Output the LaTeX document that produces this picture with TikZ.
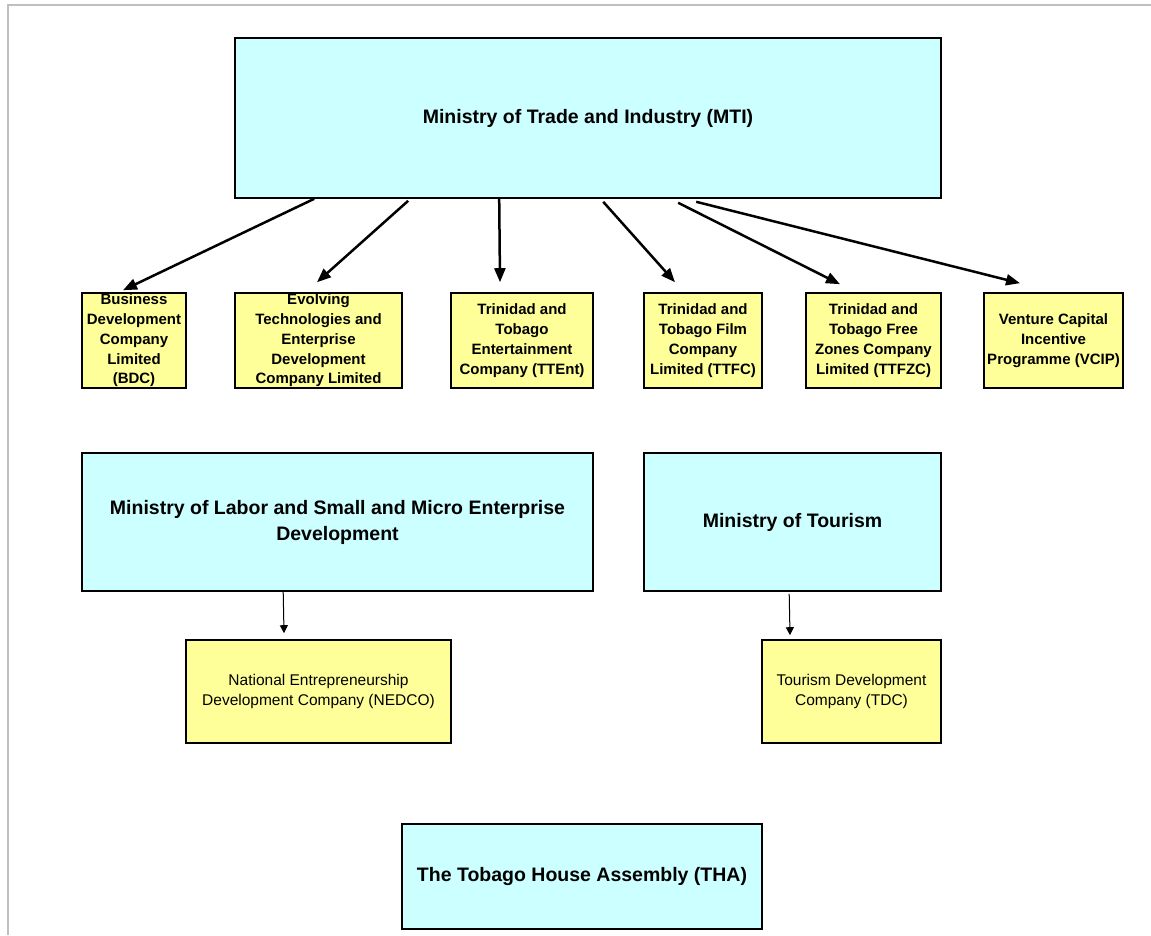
\documentclass[tikz,border=0pt]{standalone}
\usepackage{fontspec}
\setmainfont{Liberation Sans}
\usetikzlibrary{arrows.meta}
\definecolor{minfill}{HTML}{CCFFFF}
\definecolor{cofill}{HTML}{FFFF99}
\tikzset{
    ministry/.style={draw,line width=1.6,fill=minfill,align=center,inner sep=0,
        font=\fontsize{19.5}{26}\selectfont\bfseries},
    company/.style={draw,line width=1.6,fill=cofill,align=center,inner sep=0,
        minimum height=95,font=\fontsize{15}{19.8}\selectfont\bfseries},
    unit/.style={draw,line width=1.6,fill=cofill,align=center,inner sep=0,
        minimum height=103,font=\fontsize{15.5}{20}\selectfont},
    link/.style={line width=2.5,-{Triangle[length=14,width=11]}},
    thinlink/.style={line width=1,-{Triangle[length=8,width=8]}}
}
\begin{document}
\begin{tikzpicture}[x=1pt,y=-1pt]
    \useasboundingbox (0,0) rectangle (1151,935);
    \draw[black!25,line width=1.5] (1151,5) -- (8,5) -- (8,935);
    \node[ministry,minimum width=706,minimum height=160] (mti) at (588,118)
        {Ministry of Trade and Industry (MTI)};
    \node[company,minimum width=104] (bdc) at (134,340.5)
        {Business\\Development\\Company\\Limited\\(BDC)};
    \node[company,minimum width=167] (eted) at (318.5,340.5)
        {Evolving\\Technologies and\\Enterprise\\Development\\Company Limited};
    \node[company,minimum width=142] (ttent) at (522,340.5)
        {Trinidad and\\Tobago\\Entertainment\\Company (TTEnt)};
    \node[company,minimum width=118] (ttfc) at (703,340.5)
        {Trinidad and\\Tobago Film\\Company\\Limited (TTFC)};
    \node[company,minimum width=135] (ttfzc) at (873.5,340.5)
        {Trinidad and\\Tobago Free\\Zones Company\\Limited (TTFZC)};
    \node[company,minimum width=139] (vcip) at (1053.5,340.5)
        {Venture Capital\\Incentive\\Programme (VCIP)};
    \node[ministry,minimum width=511,minimum height=138] (mlsmed) at (337.5,522)
        {Ministry of Labor and Small and Micro Enterprise\\Development};
    \node[ministry,minimum width=297,minimum height=138] (tour) at (792.5,522)
        {Ministry of Tourism};
    \node[unit,minimum width=265] (nedco) at (318.5,691.5)
        {National Entrepreneurship\\Development Company (NEDCO)};
    \node[unit,minimum width=179] (tdc) at (851.5,691.5)
        {Tourism Development\\Company (TDC)};
    \node[ministry,minimum width=360,minimum height=105] (tha) at (582,876.5)
        {The Tobago House Assembly (THA)};
    \draw[link] ([xshift=80]mti.south west) -- ([xshift=-11,yshift=2]bdc.north);
    \draw[link] ([xshift=174,yshift=-2]mti.south west) -- ([xshift=-1.5,yshift=10]eted.north);
    \draw[link] ([xshift=265]mti.south west) -- ([xshift=-22,yshift=10]ttent.north);
    \draw[link] ([xshift=369,yshift=-3]mti.south west) -- ([xshift=-28,yshift=10]ttfc.north);
    \draw[link] ([xshift=444,yshift=-4]mti.south west) -- ([xshift=-33.5,yshift=8]ttfzc.north);
    \draw[link] ([xshift=462,yshift=-3]mti.south west) -- ([xshift=-33.5,yshift=9]vcip.north);
    \draw[thinlink] ([xshift=202]mlsmed.south west) -- ([xshift=-34.5,yshift=6]nedco.north);
    \draw[thinlink] ([xshift=146,yshift=-2]tour.south west) -- ([xshift=-61.5,yshift=4]tdc.north);
\end{tikzpicture}
\end{document}
